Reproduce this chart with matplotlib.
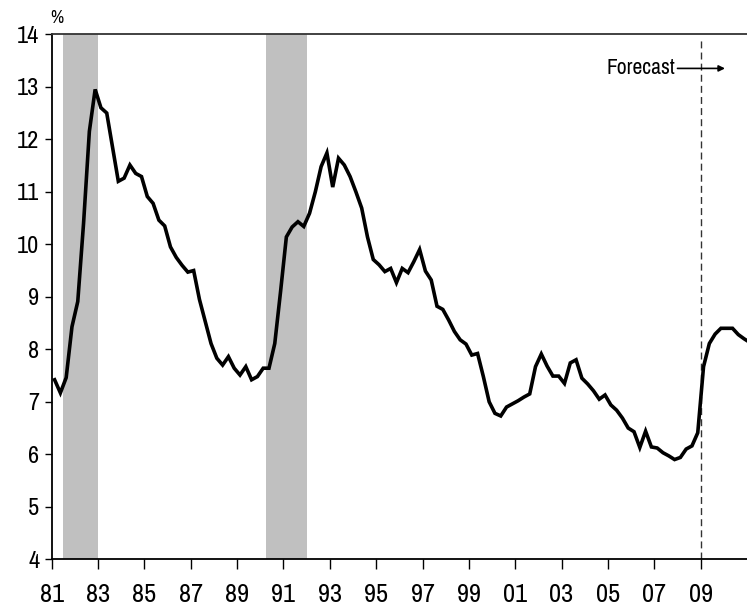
import matplotlib
matplotlib.use("Agg")
import matplotlib.pyplot as plt
import numpy as np

plt.rcParams['font.family'] = ['Archivo Narrow', 'Roboto Condensed', 'PT Sans Narrow',
                               'Liberation Sans Narrow', 'Arimo', 'Liberation Sans',
                               'DejaVu Sans']

start_year = 1981
values = [7.42, 7.17, 7.46, 8.43, 8.91, 10.4, 12.15, 12.95, 12.6, 12.5,
          11.85, 11.2, 11.26, 11.51, 11.35, 11.29, 10.91, 10.78, 10.46, 10.35,
          9.95, 9.75, 9.6, 9.47, 9.5, 8.95, 8.53, 8.11, 7.83, 7.7,
          7.86, 7.64, 7.51, 7.67, 7.42, 7.48, 7.64, 7.64, 8.11, 9.1,
          10.14, 10.33, 10.43, 10.34, 10.59, 11.0, 11.48, 11.74, 11.09, 11.64,
          11.51, 11.29, 11.0, 10.69, 10.14, 9.71, 9.61, 9.48, 9.54, 9.27,
          9.54, 9.46, 9.67, 9.9, 9.49, 9.32, 8.82, 8.76, 8.56, 8.34,
          8.18, 8.1, 7.89, 7.92, 7.48, 7.0, 6.78, 6.73, 6.9, 6.96,
          7.02, 7.09, 7.15, 7.67, 7.91, 7.68, 7.49, 7.49, 7.35, 7.74,
          7.8, 7.45, 7.34, 7.21, 7.05, 7.13, 6.94, 6.84, 6.69, 6.5,
          6.43, 6.13, 6.44, 6.14, 6.12, 6.03, 5.97, 5.9, 5.94, 6.1,
          6.16, 6.41, 7.67, 8.11, 8.29, 8.4, 8.4, 8.4, 8.28, 8.2, 8.13]
recessions = [(1981.5, 1983.0), (1990.25, 1992.0)]
forecast_start = 2009.0
tick_years = list(range(1981, 2011, 2))
tick_labels = [f"{y % 100:02d}" for y in tick_years]
yticks = list(range(4, 15))

x = start_year + (np.arange(len(values)) + 0.5) / 4.0

fig = plt.figure(figsize=(7.47, 6.09), dpi=100)
ax = fig.add_axes([0.0692, 0.0816, 0.9308, 0.8621])

for a, b in recessions:
    ax.axvspan(a, b, color='#c0c0c0', lw=0, zorder=1)

ax.plot(x, values, color='black', lw=2.6, zorder=3, solid_joinstyle='miter')
ax.axvline(forecast_start, ymin=0, ymax=0.989, color='#333333', lw=1.0,
           linestyle=(0, (5, 3)), zorder=2)

ax.set_xlim(1981, 2011)
ax.set_ylim(4, 14)
ax.set_xticks(tick_years)
ax.set_xticklabels(tick_labels)
ax.set_yticks(yticks)

ax.tick_params(axis='x', direction='out', length=7, width=1, pad=10, labelsize=19)
ax.tick_params(axis='y', direction='out', length=5, width=1, pad=4, labelsize=17.5)

for s in ['left', 'bottom']:
    ax.spines[s].set_color('black')
    ax.spines[s].set_linewidth(1.3)
ax.spines['top'].set_color('#333333')
ax.spines['top'].set_linewidth(1.3)
ax.spines['right'].set_visible(False)

ax.text(1980.95, 14.15, '%', fontsize=13, ha='left', va='bottom')
ax.text(2007.9, 13.35, 'Forecast', fontsize=15.5, ha='right', va='center')
ax.annotate('', xy=(2010.05, 13.35), xytext=(2008.0, 13.35),
            arrowprops=dict(arrowstyle='-|>', color='black', lw=1.2,
                            mutation_scale=9, shrinkA=0, shrinkB=0))

fig.savefig('out.png', dpi=100)
